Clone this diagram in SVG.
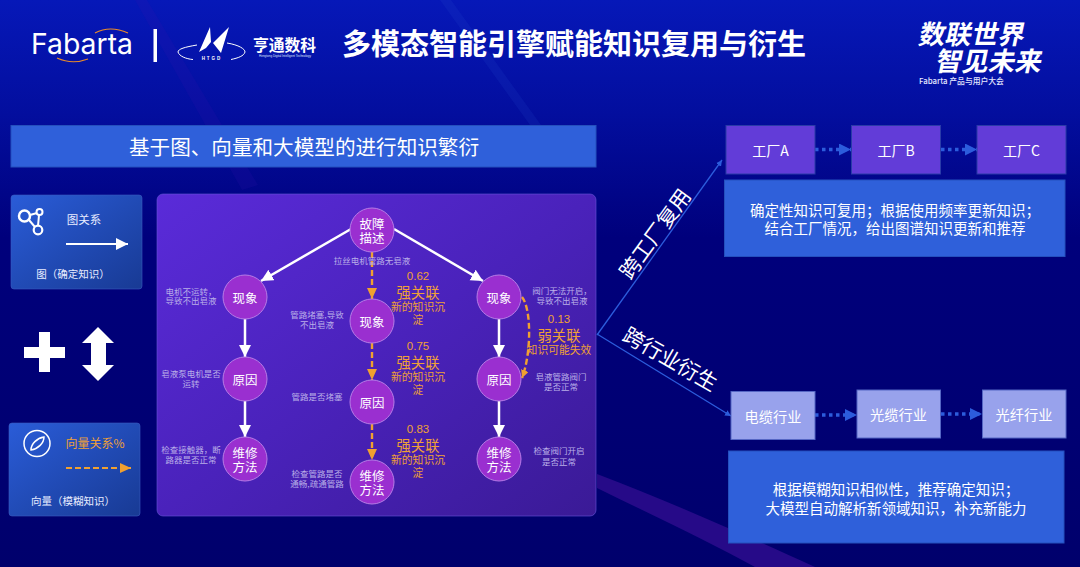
<svg xmlns="http://www.w3.org/2000/svg" width="1080" height="567" viewBox="0 0 1080 567">
<defs>
<linearGradient id="bg" x1="0" y1="0" x2="0" y2="1"><stop offset="0" stop-color="#0618b8"/><stop offset="0.2" stop-color="#030e9e"/><stop offset="0.42" stop-color="#00007c"/><stop offset="1" stop-color="#00006c"/></linearGradient>
<linearGradient id="panel" x1="0" y1="0" x2="1" y2="1"><stop offset="0" stop-color="#5a2bd9"/><stop offset="0.5" stop-color="#4a22bb"/><stop offset="1" stop-color="#3a1a96"/></linearGradient>
<linearGradient id="card" x1="0" y1="0" x2="1" y2="1"><stop offset="0" stop-color="#2a5cd8"/><stop offset="1" stop-color="#183a94"/></linearGradient>
<marker id="mw" markerUnits="userSpaceOnUse" markerWidth="14" markerHeight="14" refX="12" refY="6" orient="auto"><path d="M0,0L12,6L0,12z" fill="#fff"/></marker>
<marker id="mo" markerUnits="userSpaceOnUse" markerWidth="14" markerHeight="14" refX="11" refY="6" orient="auto"><path d="M0,1L11,6L0,11z" fill="#f0a030"/></marker>
<marker id="mc" markerUnits="userSpaceOnUse" markerWidth="10" markerHeight="10" refX="8" refY="4" orient="auto"><path d="M0,0L8,4L0,8z" fill="#f0a030"/></marker>
<marker id="mb" markerUnits="userSpaceOnUse" markerWidth="14" markerHeight="14" refX="12" refY="6" orient="auto"><path d="M0,0L12,6L0,12z" fill="#2c5cdc"/></marker>
<marker id="mt" markerUnits="userSpaceOnUse" markerWidth="8" markerHeight="8" refX="6" refY="3" orient="auto"><path d="M0,0L6,3L0,6z" fill="#2c5cdc"/></marker>
</defs>
<style>
text{font-family:"Noto Sans CJK SC","Noto Sans",sans-serif;text-anchor:middle;dominant-baseline:central}
.n circle{fill:#9a2fd0;stroke:#b77be6;stroke-width:1}
.n text{fill:#fff;font-size:12.5px}
.s{fill:#b9aee8;font-size:8.5px}
.o{fill:#efa036}
.v{font-family:"Liberation Sans",sans-serif;font-size:11.5px}
.st{font-size:14.3px}
.nt{font-size:10.8px}
.blue{fill:#2f60da;stroke:#2450bd;stroke-width:1}
.fac{fill:#623cd8;stroke:#2a3ba8;stroke-width:1}
.ind{fill:#98a2ec;stroke:#5566c4;stroke-width:1}
.w{stroke:#fff;stroke-width:2.5;fill:none;marker-end:url(#mw)}
.d{stroke:#f0a030;stroke-width:2.4;fill:none;stroke-dasharray:6 3;marker-end:url(#mo)}
.dot{stroke:#2c5cdc;stroke-width:3.5;fill:none;stroke-dasharray:3.5 3.5;marker-end:url(#mb)}
.t{stroke:#2c5cdc;stroke-width:1.3;fill:none;marker-end:url(#mt)}
.bt{fill:#fff;font-size:14px}
.bx{fill:#fff;font-size:14.2px}
.nx{fill:#fff;font-size:14.5px}
.card{fill:url(#card);stroke:#3a5cc0;stroke-width:.6}
</style>
<g id="background">
<rect width="1080" height="567" fill="url(#bg)"/>
<path d="M135,0L147,0L258,185L242,190z" fill="#3a14b0" opacity=".15"/>
<path d="M440,0L451,0L541,125L530,125z" fill="#2a50d0" opacity=".15"/>
<path d="M597,474C660,498 730,528 815,567L755,567C710,542 650,514 597,488z" fill="#260a88"/>
</g>
<g id="logos">
<text x="82" y="43" fill="#fff" font-size="29" style="font-family:Inter,sans-serif;font-weight:400" textLength="102" lengthAdjust="spacingAndGlyphs">Fabarta</text>
<path d="M95,33Q110,25 128,33" stroke="#e88a2a" stroke-width="1.200" fill="none"/>
<path d="M57,58Q72,65 88,59" stroke="#e88a2a" stroke-width="1.200" fill="none"/>
<rect x="153.500" y="29" width="3.500" height="33" fill="#fff"/>
<path d="M199,52L210,27L211,42L206,48z M229,27L221,53L213,43z" fill="#fff"/>
<path d="M197,45C185,47 178,49 178,52C179,56 186,59 193,59.500M227,43C239,45 245,49 245,52C244,56 238,58 231,59.500" stroke="#fff" stroke-width="1" fill="none"/>
<text x="212" y="58" fill="#fff" font-size="4.500" font-weight="700" letter-spacing="2" style="font-family:'Liberation Sans',sans-serif">HTGD</text>
<text x="284.500" y="44.500" fill="#fff" font-size="15.800" font-weight="700">亨通数科</text>
<text x="285" y="56" fill="#dfe4ff" font-size="3" style="font-family:'Liberation Sans',sans-serif">Hengtong Digital Intelligent Technology</text>
</g>
<text id="title" x="574" y="42" fill="#fff" font-size="29" font-weight="700">多模态智能引擎赋能知识复用与衍生</text>
<g id="slogan">
<text transform="translate(973,33) skewX(-12)" fill="#fff" font-size="26.500" font-weight="700">数联世界</text>
<text transform="translate(990,60) skewX(-12)" fill="#fff" font-size="26.500" font-weight="700">智见未来</text>
<text x="961.500" y="80.500" fill="#e4e8ff" font-size="7.800" font-weight="500">Fabarta 产品与用户大会</text>
</g>
<g id="banner">
<rect class="blue" x="11" y="125.500" width="585" height="41.500"/>
<text x="304" y="146" fill="#fff" font-size="20.600">基于图、向量和大模型的进行知识繁衍</text>
</g>
<g id="graph-card">
<rect class="card" x="11" y="195" width="131" height="94" rx="3"/>
<g stroke="#fff" fill="none"><circle cx="24.500" cy="216" r="5.500" stroke-width="2.500"/><circle cx="39.500" cy="212" r="3" stroke-width="2"/><circle cx="38" cy="230" r="4.300" stroke-width="2.200"/><path d="M30,215L37,213M29,220L35,227M39,215L38,226" stroke-width="2"/></g>
<text x="84" y="219" fill="#e8ecff" font-size="11.500">图关系</text>
<path d="M66,244H128" class="w" style="stroke-width:2"/>
<text x="73" y="273" fill="#e8ecff" font-size="10.500">图（确定知识）</text>
</g>
<g id="symbols">
<path d="M39,332H50V347H65V358H50V372H39V358H24V347H39z" fill="#fff"/>
<path d="M98,327L114,343H106V365H114L98,381L82,365H91V343H82z" fill="#fff"/>
</g>
<g id="vector-card">
<rect class="card" x="9" y="423" width="131" height="93" rx="3"/>
<circle cx="37" cy="443.500" r="13" stroke="#fff" stroke-width="1.500" fill="none"/>
<path d="M31,450C31,444 37,438 44,437C44,443 38,449 31,450z" stroke="#fff" stroke-width="1.500" fill="none"/>
<text x="95" y="442" class="o" font-size="12">向量关系%</text>
<path d="M66,468H131" class="d" style="stroke-width:2"/>
<text x="73" y="500" fill="#e8ecff" font-size="10.500">向量（模糊知识）</text>
</g>
<g id="panel-box"><rect x="157" y="194" width="439" height="322" rx="6" fill="url(#panel)" stroke="#6a55d8" stroke-width=".6"/></g>
<g id="connectors">
<path class="w" d="M351,229L261,281"/>
<path class="w" d="M394,229L483,281"/>
<path class="w" d="M245,319V357"/>
<path class="w" d="M245,401V437"/>
<path class="w" d="M499,319V357"/>
<path class="w" d="M499,401V437"/>
<path class="d" d="M372,252V299"/>
<path class="d" d="M372,343V380"/>
<path class="d" d="M372,424V460"/>
<path d="M522,297C532,310 531,355 522,378" stroke="#f0a030" stroke-width="2.400" fill="none" stroke-dasharray="6 3" marker-end="url(#mc)"/>
<path class="t" d="M597,335L722,160"/>
<path class="t" d="M597,334L731,416"/>
<path class="dot" d="M815,149.500H851"/>
<path class="dot" d="M941,149.500H977"/>
<path class="dot" d="M815,415H857"/>
<path class="dot" d="M941,414H982"/>
</g>
<g id="n-fault" class="n"><circle cx="372" cy="230" r="22"/><text><tspan x="372" y="223">故障</tspan><tspan x="372" y="237">描述</tspan></text></g>
<g id="n-l1" class="n"><circle cx="245" cy="297" r="22"/><text x="245" y="297">现象</text></g>
<g id="n-l2" class="n"><circle cx="245" cy="379" r="22"/><text x="245" y="379">原因</text></g>
<g id="n-l3" class="n"><circle cx="245" cy="459" r="22"/><text><tspan x="245" y="452">维修</tspan><tspan x="245" y="466">方法</tspan></text></g>
<g id="n-m1" class="n"><circle cx="372" cy="321" r="22"/><text x="372" y="321">现象</text></g>
<g id="n-m2" class="n"><circle cx="372" cy="402" r="22"/><text x="372" y="402">原因</text></g>
<g id="n-m3" class="n"><circle cx="372" cy="482" r="22"/><text><tspan x="372" y="475">维修</tspan><tspan x="372" y="489">方法</tspan></text></g>
<g id="n-r1" class="n"><circle cx="499" cy="297" r="22"/><text x="499" y="297">现象</text></g>
<g id="n-r2" class="n"><circle cx="499" cy="379" r="22"/><text x="499" y="379">原因</text></g>
<g id="n-r3" class="n"><circle cx="499" cy="459" r="22"/><text><tspan x="499" y="452">维修</tspan><tspan x="499" y="466">方法</tspan></text></g>
<g id="notes">
<text class="s" x="372" y="260">拉丝电机管路无皂液</text>
<text class="s"><tspan x="191" y="291">电机不运转，</tspan><tspan x="191" y="300">导致不出皂液</tspan></text>
<text class="s"><tspan x="317" y="314">管路堵塞,导致</tspan><tspan x="317" y="324">不出皂液</tspan></text>
<text class="s"><tspan x="191" y="373">皂液泵电机是否</tspan><tspan x="191" y="383">运转</tspan></text>
<text class="s"><tspan x="191" y="449">检查接触器，断</tspan><tspan x="191" y="459">路器是否正常</tspan></text>
<text class="s" x="317" y="396">管路是否堵塞</text>
<text class="s"><tspan x="317" y="473">检查管路是否</tspan><tspan x="317" y="483">通畅,疏通管路</tspan></text>
<text class="s"><tspan x="562" y="290">阀门无法开启，</tspan><tspan x="562" y="300">导致不出皂液</tspan></text>
<text class="s"><tspan x="561" y="376">皂液管路阀门</tspan><tspan x="561" y="386">是否正常</tspan></text>
<text class="s"><tspan x="559" y="450">检查阀门开启</tspan><tspan x="559" y="461">是否正常</tspan></text>
</g>
<g id="scores">
<text class="o"><tspan class="v" x="418" y="276">0.62</tspan><tspan class="st" x="418" y="291">强关联</tspan><tspan class="nt" x="418" y="306">新的知识沉</tspan><tspan class="nt" x="418" y="319">淀</tspan></text>
<text class="o"><tspan class="v" x="418" y="346">0.75</tspan><tspan class="st" x="418" y="361">强关联</tspan><tspan class="nt" x="418" y="376">新的知识沉</tspan><tspan class="nt" x="418" y="389">淀</tspan></text>
<text class="o"><tspan class="v" x="418" y="429">0.83</tspan><tspan class="st" x="418" y="444">强关联</tspan><tspan class="nt" x="418" y="459">新的知识沉</tspan><tspan class="nt" x="418" y="472">淀</tspan></text>
<text class="o"><tspan class="v" x="559" y="319">0.13</tspan><tspan class="st" x="559" y="334">弱关联</tspan><tspan class="nt" x="559" y="349">知识可能失效</tspan></text>
</g>
<text x="654" y="233" fill="#fff" font-size="21" transform="rotate(-54 654 233)">跨工厂复用</text>
<text x="671" y="358" fill="#fff" font-size="21" transform="rotate(30 671 358)">跨行业衍生</text>
<g id="factory-a"><rect class="fac" x="726" y="125.500" width="89" height="48.500"/><text class="bt" x="770.500" y="149.500">工厂A</text></g>
<g id="factory-b"><rect class="fac" x="851.500" y="125.500" width="89" height="48.500"/><text class="bt" x="896" y="149.500">工厂B</text></g>
<g id="factory-c"><rect class="fac" x="977" y="125.500" width="89" height="48.500"/><text class="bt" x="1021.500" y="149.500">工厂C</text></g>
<g id="factory-note"><rect class="blue" x="724.500" y="180" width="340.500" height="76.500"/><text class="nx"><tspan x="895" y="209">确定性知识可复用；根据使用频率更新知识；</tspan><tspan x="895" y="227">结合工厂情况，给出图谱知识更新和推荐</tspan></text></g>
<g id="ind-a"><rect class="ind" x="731" y="391.500" width="84" height="48"/><text class="bx" x="773" y="415.500">电缆行业</text></g>
<g id="ind-b"><rect class="ind" x="857" y="390" width="83.500" height="48"/><text class="bx" x="898.500" y="414">光缆行业</text></g>
<g id="ind-c"><rect class="ind" x="982.500" y="390" width="83.500" height="48"/><text class="bx" x="1024" y="414">光纤行业</text></g>
<g id="ind-note"><rect class="blue" x="728.500" y="451" width="335.500" height="92"/><text class="nx"><tspan x="896" y="488">根据模糊知识相似性，推荐确定知识；</tspan><tspan x="896" y="507">大模型自动解析新领域知识，补充新能力</tspan></text></g>
</svg>
